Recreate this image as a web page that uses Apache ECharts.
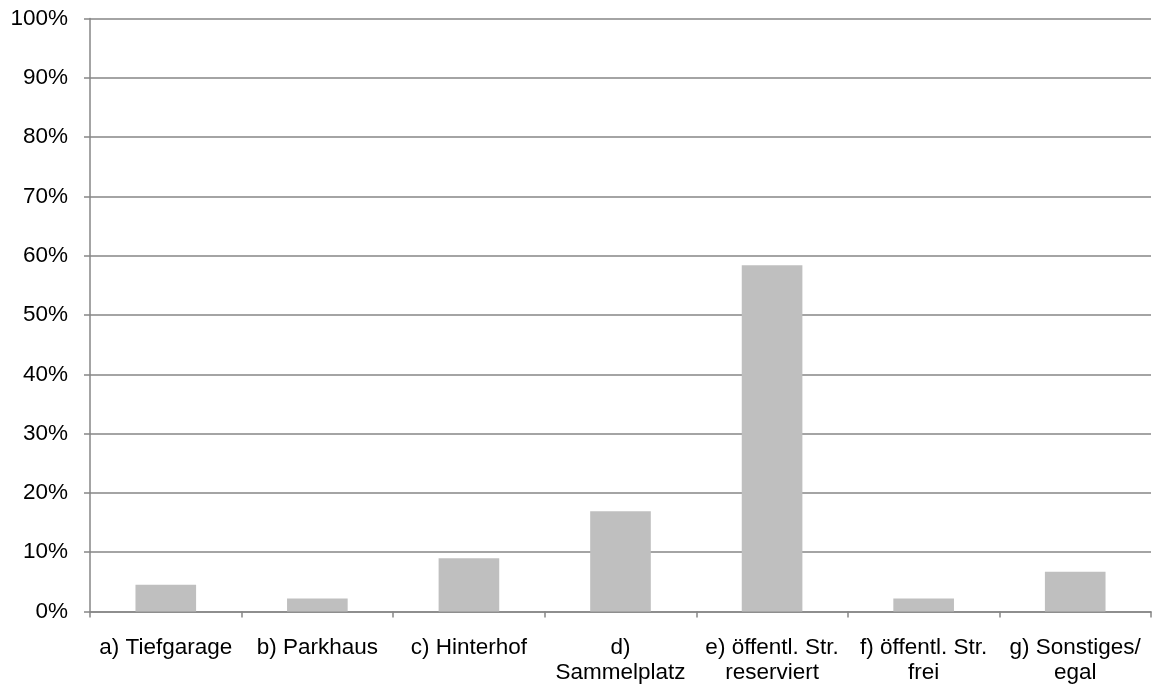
<!DOCTYPE html>
<html>
<head>
<meta charset="utf-8">
<script src="https://cdn.jsdelivr.net/npm/echarts@6/dist/echarts.min.js"></script>
<style>
html,body{margin:0;padding:0;background:#fff;}
#chart{width:1153px;height:690px;}
</style>
</head>
<body>
<div id="chart"></div>
<script>
var categories = ['a) Tiefgarage', 'b) Parkhaus', 'c) Hinterhof', 'd)\nSammelplatz', 'e) öffentl. Str.\nreserviert', 'f) öffentl. Str.\nfrei', 'g) Sonstiges/\negal'];
var values = [4.5, 2.2, 9.0, 16.9, 58.4, 2.2, 6.7];
var yTicks = { min: 0, max: 100, interval: 10 };

var chart = echarts.init(document.getElementById('chart'), null, { renderer: 'canvas' });
var font = 'Liberation Sans, Arial, sans-serif';
chart.setOption({
  animation: false,
  backgroundColor: '#ffffff',
  grid: { left: 90, right: 2, top: 18.5, bottom: 78.5 },
  xAxis: {
    type: 'category',
    data: categories,
    axisLine: { lineStyle: { color: '#868686', width: 1.5 } },
    axisTick: { show: true, length: 6, lineStyle: { color: '#868686', width: 1.5 } },
    axisLabel: { interval: 0, color: '#000', fontFamily: font, fontSize: 22.5, lineHeight: 25, margin: 24 }
  },
  yAxis: {
    type: 'value',
    min: yTicks.min, max: yTicks.max, interval: yTicks.interval,
    axisLine: { show: true, lineStyle: { color: '#868686', width: 1.5 } },
    axisTick: { show: true, length: 6, lineStyle: { color: '#868686', width: 1.5 } },
    splitLine: { lineStyle: { color: '#868686', width: 1.5 } },
    axisLabel: { formatter: '{value}%', color: '#000', fontFamily: font, fontSize: 22.5, margin: 22 }
  },
  series: [{
    type: 'bar',
    data: values,
    barWidth: '40%',
    itemStyle: { color: '#bfbfbf' }
  }]
});
</script>
</body>
</html>
